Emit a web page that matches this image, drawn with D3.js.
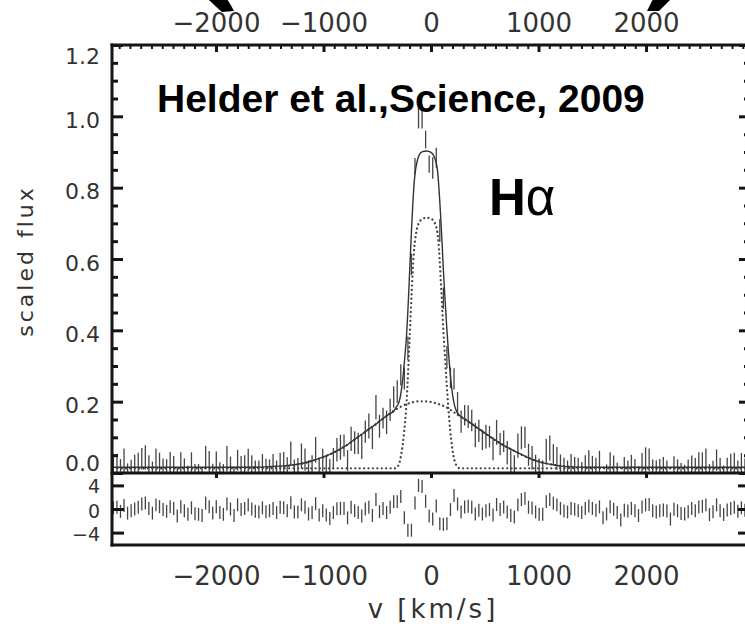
<!DOCTYPE html>
<html><head><meta charset="utf-8">
<script src="https://cdn.jsdelivr.net/npm/d3@7"></script>
<style>body{margin:0;background:#fff} svg{display:block}</style>
</head><body>
<svg id="c" width="745" height="627"></svg>
<script>
// ---- data ----
const velocity = [
-2954,-2921,-2888,-2855,-2822,-2789,-2756,-2723,-2690,-2657,
-2624,-2591,-2558,-2525,-2492,-2459,-2426,-2393,-2360,-2327,
-2294,-2261,-2228,-2195,-2162,-2129,-2096,-2063,-2030,-1997,
-1964,-1931,-1898,-1865,-1832,-1799,-1766,-1733,-1700,-1667,
-1634,-1601,-1568,-1535,-1502,-1469,-1436,-1403,-1370,-1337,
-1304,-1271,-1238,-1205,-1172,-1139,-1106,-1073,-1040,-1007,
-974,-941,-908,-875,-842,-809,-776,-743,-710,-677,
-644,-611,-578,-545,-512,-479,-446,-413,-380,-347,
-314,-281,-248,-215,-182,-149,-116,-83,-50,-17,
16,49,82,115,148,181,214,247,280,313,
346,379,412,445,478,511,544,577,610,643,
676,709,742,775,808,841,874,907,940,973,
1006,1039,1072,1105,1138,1171,1204,1237,1270,1303,
1336,1369,1402,1435,1468,1501,1534,1567,1600,1633,
1666,1699,1732,1765,1798,1831,1864,1897,1930,1963,
1996,2029,2062,2095,2128,2161,2194,2227,2260,2293,
2326,2359,2392,2425,2458,2491,2524,2557,2590,2623,
2656,2689,2722,2755,2788,2821,2854,2887,2920];

const flux = [
0.022,0.024,0.005,0.033,-0.004,0.008,0.016,0.024,0.040,0.044,
0.019,-0.004,0.036,0.027,0.013,0.005,0.027,0.019,-0.018,0.027,
0.008,-0.009,0.022,-0.006,-0.009,-0.015,0.044,0.027,-0.004,0.027,
-0.001,-0.009,0.040,0.016,-0.015,0.036,0.013,0.019,0.036,0.016,
0.005,0.002,0.022,0.004,0.009,0.021,0.001,0.027,0.026,0.013,
0.054,0.008,0.010,0.048,0.038,0.007,0.017,0.065,0.011,0.036,
0.019,0.005,0.040,0.065,0.072,0.077,0.035,0.096,0.085,0.083,
0.072,0.116,0.132,0.097,0.185,0.131,0.154,0.142,0.177,0.213,
0.228,0.275,0.265,0.350,0.585,0.860,1.000,1.000,0.935,0.866,
0.855,0.884,0.680,0.490,0.325,0.267,0.264,0.194,0.144,0.162,
0.158,0.147,0.106,0.118,0.093,0.102,0.102,0.068,0.114,0.081,
0.089,0.057,0.033,0.021,0.077,0.099,0.100,0.051,0.043,0.021,
0.007,0.004,0.062,0.070,0.051,0.041,0.023,0.009,0.004,0.020,
0.015,0.008,-0.001,0.019,0.030,0.019,0.010,0.026,-0.026,-0.008,
0.027,0.015,-0.001,-0.036,0.010,0.006,0.019,0.008,-0.015,0.026,
0.036,0.037,0.008,0.002,0.008,0.012,0.006,-0.032,0.015,0.008,
-0.005,-0.008,0.003,0.019,0.008,0.026,0.029,0.036,-0.011,0.003,
0.036,0.008,-0.011,0.012,0.019,0.024,0.005,0.022,0.010];

const fluxErr = [
0.032,0.030,0.034,0.036,0.031,0.029,0.035,0.033,0.030,0.034,
0.031,0.036,0.033,0.030,0.028,0.034,0.032,0.029,0.035,0.031,
0.033,0.030,0.036,0.031,0.034,0.029,0.032,0.035,0.030,0.033,
0.031,0.034,0.036,0.030,0.033,0.029,0.035,0.031,0.032,0.034,
0.030,0.033,0.031,0.036,0.029,0.032,0.034,0.030,0.033,0.031,
0.034,0.030,0.032,0.035,0.031,0.029,0.033,0.036,0.030,0.032,
0.031,0.034,0.030,0.033,0.035,0.031,0.029,0.034,0.032,0.030,
0.033,0.031,0.035,0.030,0.034,0.032,0.029,0.033,0.031,0.030,
0.032,0.030,0.031,0.033,0.030,0.023,0.034,0.034,0.025,0.024,
0.030,0.028,0.032,0.030,0.031,0.029,0.030,0.033,0.031,0.029,
0.032,0.030,0.034,0.031,0.029,0.033,0.030,0.032,0.035,0.031,
0.030,0.033,0.031,0.029,0.034,0.032,0.030,0.031,0.033,0.030,
0.034,0.031,0.033,0.035,0.030,0.032,0.029,0.034,0.031,0.033,
0.030,0.035,0.032,0.031,0.034,0.029,0.033,0.036,0.030,0.032,
0.031,0.034,0.030,0.033,0.035,0.029,0.032,0.031,0.034,0.030,
0.036,0.032,0.030,0.034,0.031,0.033,0.029,0.035,0.032,0.030,
0.033,0.031,0.035,0.030,0.034,0.032,0.029,0.033,0.036,0.031,
0.030,0.034,0.032,0.031,0.035,0.033,0.030,0.034,0.031];

const residual = [
0.2,0.3,-0.4,0.6,-0.7,-0.3,0.0,0.3,0.85,1.0,
0.1,-0.7,0.7,0.4,-0.1,-0.4,0.4,0.1,-1.2,0.4,
-0.3,-0.9,0.2,-0.8,-0.9,-1.1,1.0,0.4,-0.7,0.4,
-0.6,-0.9,0.85,0.0,-1.1,0.7,-0.1,0.1,0.7,0.0,
-0.4,-0.5,0.2,-0.45,-0.3,0.1,-0.6,0.3,0.2,-0.3,
1.07,-0.5,-0.5,0.7,0.3,-0.85,-0.6,0.9,-1.0,-0.3,
-1.0,-1.6,-0.6,0.05,0.1,0.1,-1.5,0.3,-0.3,-0.6,
-1.2,0.0,0.3,-1.1,1.6,-0.45,0.1,-0.6,0.3,1.25,
1.25,2.1,-1.5,-3.6,-3.6,1.0,4.0,3.8,1.3,-1.2,
-1.7,0.5,-2.5,-2.6,-2.5,-0.1,2.3,0.85,-0.5,0.35,
0.45,0.3,-0.85,-0.2,-0.85,-0.3,-0.1,-1.0,0.75,-0.1,
0.35,-0.5,-1.1,-1.35,0.7,1.6,1.8,0.3,0.15,-0.5,
-0.9,-0.9,1.25,1.6,1.0,0.7,0.1,-0.35,-0.5,0.1,
-0.05,-0.3,-0.6,0.1,0.5,0.1,-0.2,0.35,-1.5,-0.85,
0.4,-0.05,-0.6,-1.85,-0.2,-0.35,0.1,-0.3,-1.1,0.35,
0.7,0.76,-0.3,-0.5,-0.3,-0.15,-0.35,-1.7,-0.05,-0.3,
-0.75,-0.85,-0.45,0.1,-0.3,0.35,0.45,0.7,-0.95,-0.45,
0.7,-0.3,-0.95,-0.15,0.1,0.3,-0.4,0.2,-0.2];
const residualErr = 1.1;

// total fit (solid)
const fitV = [-2960,-2000,-1700,-1500,-1300,-1150,-1000,-900,-800,-700,-600,-500,-400,-340,-319,-300,-288,-270,-255,-242,-230,-220,-211,-200,-189,-180,-170,-160,-149,-130,-110,-80,-40,0,21,40,59,70,80,90,103,115,130,146,162,177,192,207,222,239,255,270,330,400,500,640,800,950,1100,1260,1450,2960];
const fitFlux = [0.016,0.016,0.016,0.018,0.022,0.030,0.045,0.058,0.075,0.096,0.118,0.140,0.163,0.176,0.187,0.197,0.21,0.245,0.285,0.33,0.375,0.425,0.48,0.555,0.63,0.69,0.75,0.80,0.838,0.872,0.892,0.901,0.903,0.899,0.892,0.878,0.852,0.815,0.77,0.72,0.645,0.57,0.49,0.41,0.34,0.285,0.24,0.207,0.186,0.172,0.165,0.16,0.148,0.133,0.112,0.084,0.058,0.037,0.025,0.018,0.016,0.016];
// narrow component (dotted)
const narrowV = [-2960,-340,-319,-300,-288,-270,-255,-242,-230,-220,-211,-200,-189,-180,-170,-160,-149,-130,-110,-80,-40,0,21,40,59,70,80,90,103,115,130,146,162,177,192,207,222,239,255,270,2960];
const narrowFlux = [0.013,0.013,0.015,0.024,0.035,0.065,0.1,0.14,0.185,0.24,0.295,0.37,0.445,0.505,0.565,0.615,0.65,0.685,0.703,0.712,0.716,0.713,0.708,0.697,0.675,0.645,0.60,0.545,0.47,0.40,0.325,0.25,0.18,0.125,0.083,0.052,0.032,0.02,0.015,0.013,0.013];
// broad component (dotted)
const broadV = [-2960,-2400,-2000,-1700,-1500,-1300,-1150,-1000,-900,-800,-700,-600,-500,-400,-300,-200,-100,-74,0,50,100,150,200,250,330,400,500,640,800,950,1100,1260,1450,1700,2000,2960];
const broadFlux = [0.013,0.013,0.014,0.015,0.017,0.021,0.030,0.045,0.058,0.075,0.096,0.118,0.140,0.163,0.183,0.196,0.201,0.201,0.199,0.195,0.190,0.183,0.173,0.163,0.148,0.133,0.112,0.084,0.058,0.037,0.025,0.018,0.015,0.014,0.013,0.013];

const xTickValues = [-2000,-1000,0,1000,2000];
const yTickValues = [0,0.2,0.4,0.6,0.8,1.0,1.2];
const residTickValues = [-4,0,4];

// ---- layout ----
const svg = d3.select('#c');
const L = 112, R = 750, T = 45, MB = 473, RB = 545;
const x = d3.scaleLinear().domain([-2967, 2967]).range([L, R]);
const y = d3.scaleLinear().domain([0, 1.2]).range([MB, T]);
const yr = d3.scaleLinear().domain([-6.1, 6.1]).range([RB, MB]);
const INK = '#151515', TXT = '#333';

const defs = svg.append('defs');
defs.append('clipPath').attr('id','cm').append('rect').attr('x',L).attr('y',T).attr('width',R-L).attr('height',MB-T);
defs.append('clipPath').attr('id','cr').append('rect').attr('x',L).attr('y',MB).attr('width',R-L).attr('height',RB-MB);

const pts = velocity.map((v,i)=>({v, f:flux[i], e:fluxErr[i], r:residual[i]}));

// main panel data
const gm = svg.append('g').attr('clip-path','url(#cm)');
gm.selectAll('line.eb').data(pts).join('line').attr('class','eb')
  .attr('x1',d=>x(d.v)).attr('x2',d=>x(d.v))
  .attr('y1',d=>y(d.f-d.e)).attr('y2',d=>y(d.f+d.e))
  .attr('stroke','#444').attr('stroke-width',1.3);

const mkLine = (vs, fs) => d3.line().x((d,i)=>x(vs[i])).y((d,i)=>y(fs[i])).curve(d3.curveMonotoneX)(vs);
gm.append('path').attr('d', mkLine(broadV, broadFlux)).attr('fill','none')
  .attr('stroke','#444').attr('stroke-width',2.3).attr('stroke-linecap','round').attr('stroke-dasharray','0.01 4.4');
gm.append('path').attr('d', mkLine(narrowV, narrowFlux)).attr('fill','none')
  .attr('stroke','#444').attr('stroke-width',2.3).attr('stroke-linecap','round').attr('stroke-dasharray','0.01 4.4');
gm.append('path').attr('d', mkLine(fitV, fitFlux)).attr('fill','none')
  .attr('stroke','#333').attr('stroke-width',1.4);

// residual panel data
const gr = svg.append('g').attr('clip-path','url(#cr)');
gr.selectAll('line.rb').data(pts).join('line').attr('class','rb')
  .attr('x1',d=>x(d.v)).attr('x2',d=>x(d.v))
  .attr('y1',d=>yr(d.r-residualErr)).attr('y2',d=>yr(d.r+residualErr))
  .attr('stroke','#444').attr('stroke-width',1.3);

// ---- axes ----
function style(g, w){
  g.select('.domain').remove();
  g.selectAll('.tick line').attr('stroke',INK).attr('stroke-width',w);
  g.selectAll('.tick text').attr('fill',TXT);
  g.attr('font-family','"DejaVu Sans", sans-serif');
}
const fmtY = d3.format('.1f');
const fmtX = d3.format('d');
const minorY = d3.range(0, 1.2001, 0.05).filter(v => Math.abs(v*5 - Math.round(v*5)) > 1e-6);
const minorX = d3.range(-2900, 2901, 100).filter(v => v % 1000 !== 0);

// left main
let g = svg.append('g').attr('transform',`translate(${L},0)`)
  .call(d3.axisLeft(y).tickValues(minorY).tickSizeInner(-6).tickSizeOuter(0).tickFormat(''));
style(g,3);
g = svg.append('g').attr('transform',`translate(${L},0)`)
  .call(d3.axisLeft(y).tickValues(yTickValues).tickSizeInner(-11).tickSizeOuter(0).tickPadding(12).tickFormat(fmtY));
style(g,3);
g.attr('font-size',22);
g.selectAll('.tick text').attr('transform', d => `translate(0,${d===1.2?11:(d===0?-10:4)})`);

// right main
g = svg.append('g').attr('transform',`translate(${R},0)`)
  .call(d3.axisRight(y).tickValues(minorY).tickSizeInner(-6).tickSizeOuter(0).tickFormat(''));
style(g,3);
g = svg.append('g').attr('transform',`translate(${R},0)`)
  .call(d3.axisRight(y).tickValues(yTickValues).tickSizeInner(-11).tickSizeOuter(0).tickFormat(''));
style(g,3);

// residual left / right
g = svg.append('g').attr('transform',`translate(${L},0)`)
  .call(d3.axisLeft(yr).tickValues(residTickValues).tickSizeInner(-12).tickSizeOuter(0).tickPadding(12).tickFormat(fmtX));
style(g,3); g.attr('font-size',19);
g.selectAll('.tick text').attr('transform', d => `translate(0,${d===4?1.5:2})`);
g = svg.append('g').attr('transform',`translate(${R},0)`)
  .call(d3.axisRight(yr).tickValues(residTickValues).tickSizeInner(-12).tickSizeOuter(0).tickFormat(''));
style(g,3);

// top axis (labels above, ticks inward)
g = svg.append('g').attr('transform',`translate(0,${T})`)
  .call(d3.axisTop(x).tickValues(minorX).tickSizeInner(-4).tickSizeOuter(0).tickFormat(''));
style(g,2);
g = svg.append('g').attr('transform',`translate(0,${T})`)
  .call(d3.axisTop(x).tickValues(xTickValues).tickSizeInner(-7).tickSizeOuter(0).tickPadding(13).tickFormat(fmtX));
style(g,3); g.attr('font-size',26);

// residual top ticks
g = svg.append('g').attr('transform',`translate(0,${MB})`)
  .call(d3.axisBottom(x).tickValues(xTickValues).tickSizeInner(5).tickSizeOuter(0).tickFormat(''));
style(g,3);

// bottom labels
g = svg.append('g').attr('transform',`translate(0,${RB})`)
  .call(d3.axisBottom(x).tickValues(xTickValues).tickSizeInner(0).tickSizeOuter(0).tickPadding(21.5).tickFormat(fmtX));
style(g,0); g.attr('font-size',26);

// frame
const frame = svg.append('g').attr('stroke',INK).attr('stroke-width',3).attr('fill','none');
frame.append('line').attr('x1',L).attr('x2',L).attr('y1',T-1.5).attr('y2',RB+1.5);
frame.append('line').attr('x1',R).attr('x2',R).attr('y1',T-1.5).attr('y2',RB+1.5);
[T, MB, RB].forEach(yy => frame.append('line').attr('x1',L-1.5).attr('x2',R+1.5).attr('y1',yy).attr('y2',yy));

// axis titles
svg.append('text').attr('transform','translate(33,261) rotate(-90)')
  .attr('text-anchor','middle').attr('font-family','"DejaVu Sans", sans-serif')
  .attr('font-size',22).attr('letter-spacing',3).attr('fill',TXT).text('scaled flux');
svg.append('text').attr('x',433).attr('y',618)
  .attr('text-anchor','middle').attr('font-family','"DejaVu Sans", sans-serif')
  .attr('font-size',26).attr('letter-spacing',3).attr('fill',TXT).text('v [km/s]');

// annotations
svg.append('text').attr('x',157).attr('y',111.5)
  .attr('font-family','"Liberation Sans", Arial, sans-serif').attr('font-weight','bold')
  .attr('font-size',39).attr('fill','#000').text('Helder et al.,Science, 2009');
const ha = svg.append('text').attr('x',489).attr('y',215)
  .attr('font-family','"Liberation Sans", Arial, sans-serif').attr('font-size',51).attr('fill','#000');
ha.append('tspan').attr('font-weight','bold').text('H');
ha.append('tspan').attr('font-weight','normal').text('α');

// fragments of large parentheses from the panel above
svg.append('path').attr('d','M208,-1 L227,-1 Q231,5 234,11 L222,12 Q215,6 208,-1 Z').attr('fill','#000');
svg.append('path').attr('d','M671,-1 L653,-1 Q650,5 647,11 L659,11 Q665,5 671,-1 Z').attr('fill','#000');
</script>
</body></html>
